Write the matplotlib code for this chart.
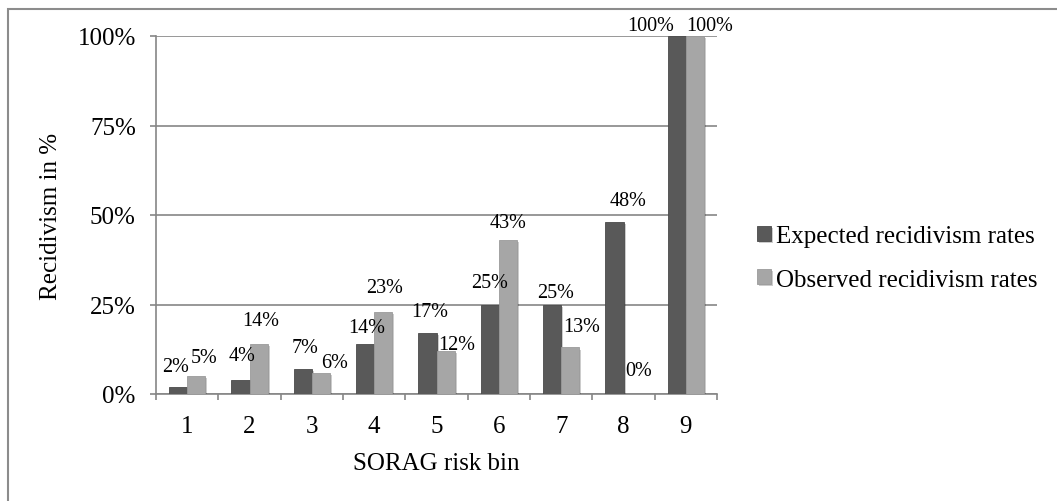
import matplotlib
matplotlib.use("Agg")
import matplotlib.pyplot as plt
import matplotlib.patheffects as pe
from matplotlib.patches import Rectangle
import numpy as np

# Data
bins = ["1", "2", "3", "4", "5", "6", "7", "8", "9"]
expected = [2, 4, 7, 14, 17, 25, 25, 48, 100]
observed = [5, 14, 6, 23, 12, 43, 13, 0, 100]
series_names = ["Expected recidivism rates", "Observed recidivism rates"]
yticks = [0, 25, 50, 75, 100]
ytick_labels = ["0%", "25%", "50%", "75%", "100%"]

# Data-label placement (pixel offsets from the top centre of each bar, Excel-style layout)
exp_label_dx = [-3, 1.5, 2, 2, 2.5, 0, 3, 13.5, -26]
exp_label_dy = [20, 24, 21, 16, 22, 22, 12, 22, 10]
obs_label_dx = [8, 2.5, 14, 1, 11.5, 0, 11, 6.5, 15]
obs_label_dy = [19, 23, 10, 24, 7, 18, 21, 23, 10]

plt.rcParams['font.family'] = ['Liberation Serif', 'DejaVu Serif']

W, H = 1057, 502
fig = plt.figure(figsize=(W / 100, H / 100), dpi=100)
ax = fig.add_axes([156 / W, 1 - 395 / H, (717 - 156) / W, (395 - 37) / H])

# Outer chart frame
fig.patches.append(Rectangle((8 / W, -0.2), 1.5, 1 - 9.5 / H + 0.2,
                             transform=fig.transFigure, fill=False,
                             edgecolor="#8c8c8c", linewidth=1.5))

grey = "#868686"
dark = "#595959"
light = "#a6a6a6"

x = np.arange(1, len(bins) + 1)
w = 0.29
shadow = [pe.withSimplePatchShadow(offset=(1.5, -1.5), shadow_rgbFace="#000000", alpha=0.2)]
b1 = ax.bar(x - w / 2, expected, w, color=dark, edgecolor="#4a4a4a", linewidth=0.6,
            label=series_names[0], zorder=3, path_effects=shadow)
b2 = ax.bar(x + w / 2, observed, w, color=light, edgecolor="#9a9a9a", linewidth=0.6,
            label=series_names[1], zorder=3, path_effects=shadow)

px = 72 / 100  # points per pixel
for xs, vals, dxs, dys in ((x - w / 2, expected, exp_label_dx, exp_label_dy),
                           (x + w / 2, observed, obs_label_dx, obs_label_dy)):
    for xi, v, dx, dy in zip(xs, vals, dxs, dys):
        ax.annotate(f"{v}%", xy=(xi, v), xytext=(dx * px, dy * px),
                    textcoords="offset points", ha="center", va="center",
                    fontsize=14.5, zorder=4, annotation_clip=False)

ax.set_xlim(0.5, len(bins) + 0.5)
ax.set_ylim(0, 100)
ax.set_yticks(yticks)
ax.set_yticklabels(ytick_labels, fontsize=18)
ax.set_xticks(x)
ax.set_xticklabels(bins, fontsize=18)
ax.set_xticks(np.arange(0.5, len(bins) + 1, 1), minor=True)

ax.tick_params(axis="x", which="major", length=0, pad=15)
ax.tick_params(axis="x", which="minor", length=4.5, width=1.2, color=grey, direction="out")
ax.tick_params(axis="y", which="major", length=4.5, width=1.2, color=grey, direction="out", pad=10)

for s in ("top", "right"):
    ax.spines[s].set_visible(False)
for s in ("left", "bottom"):
    ax.spines[s].set_color(grey)
    ax.spines[s].set_linewidth(1.2)

ax.yaxis.grid(True, color=grey, linewidth=1.2, zorder=0)
ax.set_axisbelow(True)

fig.text(51 / W, 1 - 216 / H, "Recidivism in %", rotation=90, ha="center", va="center", fontsize=18)
fig.text(436 / W, 1 - 464 / H, "SORAG risk bin", ha="center", va="center", fontsize=18)

leg = fig.legend(handles=[b1, b2], labels=series_names, loc="center left",
                 bbox_to_anchor=(757 / W, 1 - 259 / H), frameon=False, fontsize=18,
                 handlelength=0.55, handleheight=0.55, handletextpad=0.2,
                 labelspacing=0.85, borderpad=0, borderaxespad=0)

fig.savefig("out.png", dpi=100)
